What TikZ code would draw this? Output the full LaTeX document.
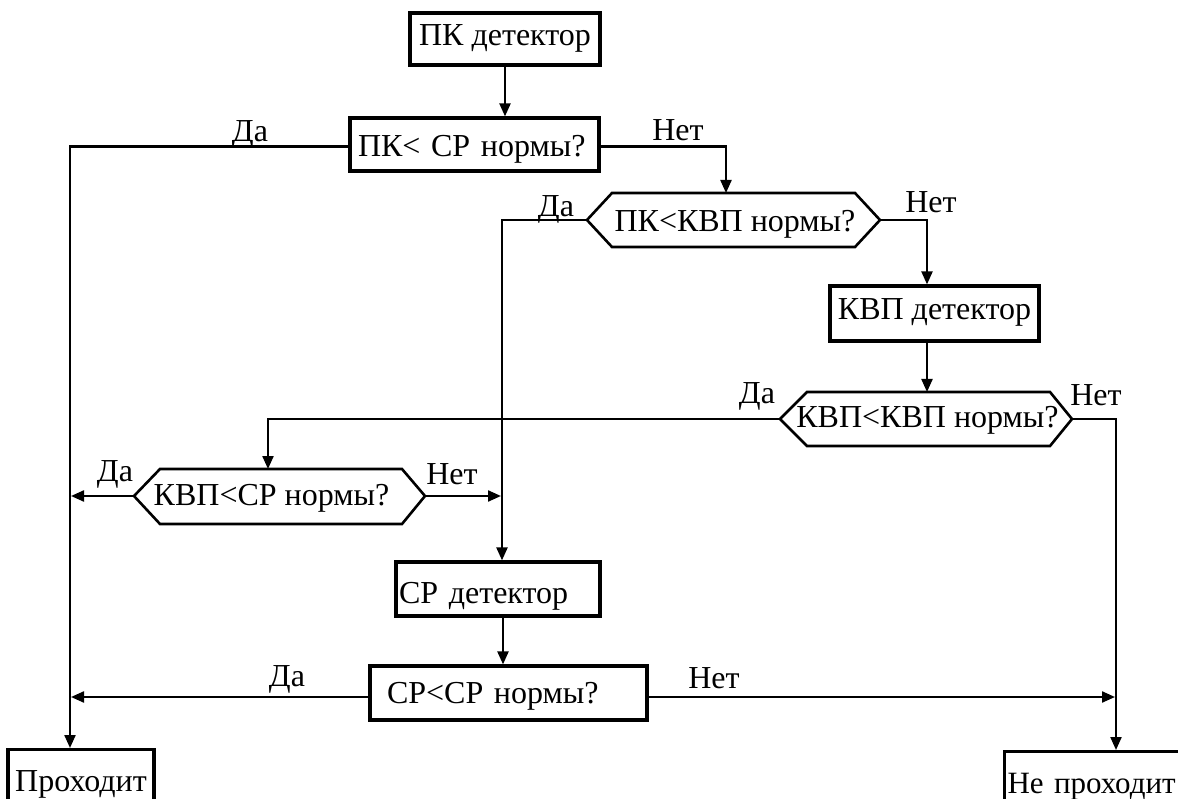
\documentclass[tikz,border=0pt]{standalone}
\usepackage{fontspec}
\setmainfont{Liberation Serif}
\usetikzlibrary{arrows.meta}
\begin{document}
\begin{tikzpicture}[x=1pt,y=-1pt,
  box/.style={draw, line width=3.2pt, inner xsep=0pt, inner ysep=0pt, font=\fontsize{32}{34}\selectfont},
  hexline/.style={line width=2.6pt, line join=miter},
  txt/.style={inner sep=0pt, anchor=base, font=\fontsize{32}{34}\selectfont},
  lbl/.style={inner sep=0pt, anchor=base, font=\fontsize{32}{34}\selectfont},
  conn/.style={line width=2.2pt},
  arr/.style={conn, -{Triangle[length=13pt,width=11pt]}}]
\clip (0,0) rectangle (1178,799);
\fill[white] (0,0) rectangle (1178,799);

% boxes
\node[box, minimum width=190, text height=33, text depth=19] (pk) at (505,39) {ПК детектор};
\node[box, text width=233, align=left, inner xsep=8, text height=39, text depth=14] (q1) at (474.5,144.5) {ПК< СР нормы?};
\node[box, minimum width=209, text height=34, text depth=21] (kvp) at (934.5,313.5) {КВП детектор};
\node[box, text width=198, align=left, inner xsep=3, text height=41, text depth=13] (cp) at (498,589) {СР детектор};
\node[box, text width=243, align=left, inner xsep=17, text height=37, text depth=17] (q4) at (508.5,693) {СР<СР нормы?};
\node[box, minimum width=146, text height=42, text depth=40, anchor=north] (pass) at (81,748) {Проходит};
\node[box, text width=192, align=left, inner xsep=3, text height=42, text depth=40, anchor=north west, font=\fontsize{31}{33}\selectfont] (fail) at (1003,750) {Не проходит};

% hexagons
\node[txt] (h1) at (735,232) {ПК<КВП нормы?};
\draw[hexline] (587,220) coordinate (h1w) -- (612,193) -- (855,193) -- (880,220) coordinate (h1e) -- (855,247) -- (612,247) -- cycle;
\node[txt] (h2) at (927.5,428) {КВП<КВП нормы?};
\draw[hexline] (780,419) coordinate (h2w) -- (807,392) -- (1050,392) -- (1072,419) coordinate (h2e) -- (1050,446) -- (807,446) -- cycle;
\node[txt] (h3) at (271.5,505) {КВП<СР нормы?};
\draw[hexline] (134,496) coordinate (h3w) -- (160,469) -- (402,469) -- (425,496) coordinate (h3e) -- (402,524) -- (160,524) -- cycle;

\coordinate (h1top) at (726,193);
\coordinate (h2top) at (927,392);
\coordinate (h3top) at (268,469);
\coordinate (h3wend) at (71,496);
\coordinate (h3eend) at (501,496);
\coordinate (q4wend) at (71,697);
\coordinate (q4eend) at (1115,697);

% connectors
\draw[arr] (pk.south) -- (pk.south |- q1.north);
\draw[arr] ([yshift=-2pt]q1.west) -| ([xshift=-11pt]pass.north);
\draw[arr] ([yshift=-2pt]q1.east) -| (h1top);
\draw[arr] (h1w) -| ([xshift=4pt]cp.north);
\draw[arr] (h1e) -| ([xshift=-7.5pt]kvp.north);
\draw[arr] (h2top |- kvp.south) -- (h2top);
\draw[arr] (h2w) -| (h3top);
\draw[arr] (h2e) -| ([xshift=113pt]fail.north west);
\draw[arr] (h3w) -- (h3wend);
\draw[arr] (h3e) -- (h3eend);
\draw[arr] ([xshift=5pt]cp.south) -- ([xshift=5pt]cp.south |- q4.north);
\draw[arr] ([yshift=-4pt]q4.west) -- (q4wend);
\draw[arr] ([yshift=-4pt]q4.east) -- (q4eend);

% labels
\node[lbl] (l1) at (250,142) {Да};
\node[lbl] (l2) at (678,141) {Нет};
\node[lbl] (l3) at (556,217) {Да};
\node[lbl] (l4) at (931,213) {Нет};
\node[lbl] (l5) at (757,404) {Да};
\node[lbl] (l6) at (1096,406) {Нет};
\node[lbl] (l7) at (115,481) {Да};
\node[lbl] (l8) at (452,484) {Нет};
\node[lbl] (l9) at (287,686) {Да};
\node[lbl] (l10) at (714,688) {Нет};
\end{tikzpicture}
\end{document}
